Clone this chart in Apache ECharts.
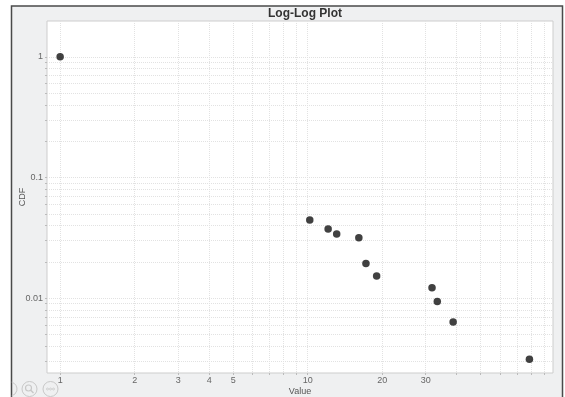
<!DOCTYPE html>
<html>
<head>
<meta charset="utf-8">
<script src="https://cdn.jsdelivr.net/npm/echarts@6/dist/echarts.min.js"></script>
<style>html,body{margin:0;padding:0;background:#fff}#c{width:565px;height:397px}</style>
</head>
<body>
<div id="c"></div>
<script>
// Data
var xValues = [1, 10.2, 12.1, 13.1, 16.1, 17.2, 19, 31.8, 33.4, 38.7, 78.7];
var cdfValues = [1, 0.0444, 0.0374, 0.034, 0.0317, 0.0194, 0.0153, 0.0122, 0.0094, 0.00636, 0.00312];
var xTickLabels = [1, 2, 3, 4, 5, 10, 20, 30];
var xGridValues = [1, 2, 3, 4, 5, 6, 7, 8, 9, 10, 20, 30, 40, 50, 60, 70, 80, 90];
var yTickLabels = [0.01, 0.1, 1];
var yGridValues = [0.003, 0.004, 0.005, 0.006, 0.007, 0.008, 0.009, 0.01, 0.02, 0.03, 0.04, 0.05, 0.06, 0.07, 0.08, 0.09, 0.1, 0.2, 0.3, 0.4, 0.5, 0.6, 0.7, 0.8, 0.9, 1];

var points = xValues.map(function (x, i) { return [x, cdfValues[i]]; });

var chart = echarts.init(document.getElementById('c'), null, { renderer: 'canvas' });
var gridLine = { show: true, lineStyle: { color: '#e2e2e2', type: [1, 1], width: 1 } };
chart.setOption({
  backgroundColor: '#ffffff',
  animation: false,
  title: {
    text: 'Log-Log Plot',
    left: 263, top: 3,
    textStyle: { fontFamily: 'Liberation Sans', fontSize: 12, fontWeight: 'bold', color: '#333' }
  },
  graphic: [
    { type: 'rect', z: -100, shape: { x: 11.5, y: 6, width: 551, height: 400 },
      style: { fill: '#eff0f1', stroke: '#4a4a4a', lineWidth: 1.5 } },
    { type: 'arc', z: 10, shape: { cx: 10, cy: 389, r: 7, startAngle: -Math.PI * 0.42, endAngle: Math.PI * 0.42 },
      style: { fill: null, stroke: '#c8c8c8', lineWidth: 1 } },
    { type: 'circle', z: 10, shape: { cx: 29.5, cy: 389, r: 7.5 }, style: { fill: null, stroke: '#c8c8c8', lineWidth: 1 } },
    { type: 'circle', z: 10, shape: { cx: 28.5, cy: 388, r: 3 }, style: { fill: null, stroke: '#c8c8c8', lineWidth: 1.2 } },
    { type: 'line', z: 10, shape: { x1: 30.8, y1: 390.3, x2: 33.5, y2: 393 }, style: { stroke: '#c8c8c8', lineWidth: 1.5 } },
    { type: 'circle', z: 10, shape: { cx: 50.5, cy: 389, r: 7.5 }, style: { fill: null, stroke: '#c8c8c8', lineWidth: 1 } },
    { type: 'circle', z: 10, shape: { cx: 47.5, cy: 389, r: 1 }, style: { fill: null, stroke: '#c8c8c8', lineWidth: 0.8 } },
    { type: 'circle', z: 10, shape: { cx: 50.5, cy: 389, r: 1 }, style: { fill: null, stroke: '#c8c8c8', lineWidth: 0.8 } },
    { type: 'circle', z: 10, shape: { cx: 53.5, cy: 389, r: 1 }, style: { fill: null, stroke: '#c8c8c8', lineWidth: 0.8 } }
  ],
  grid: {
    left: 47, right: 12, top: 21, bottom: 24,
    outerBoundsMode: 'none', containLabel: false,
    show: true, backgroundColor: '#ffffff', borderColor: '#cdcdcd', borderWidth: 1
  },
  xAxis: {
    type: 'log', logBase: 10, min: 0.885, max: 98,
    name: 'Value', nameLocation: 'middle', nameGap: 14, nameMoveOverlap: false,
    nameTextStyle: { fontFamily: 'Liberation Sans', fontSize: 9, color: '#555' },
    axisLine: { show: false },
    axisTick: { show: true, length: 2, lineStyle: { color: '#bbb' }, customValues: xGridValues },
    axisLabel: { customValues: xTickLabels, margin: 3, fontFamily: 'Liberation Sans', fontSize: 9, color: '#666' },
    splitLine: gridLine,
    minorTick: { show: false }
  },
  yAxis: {
    type: 'log', logBase: 10, min: 0.0024, max: 1.98,
    name: 'CDF', nameLocation: 'middle', nameGap: 20, nameMoveOverlap: false,
    nameTextStyle: { fontFamily: 'Liberation Sans', fontSize: 9, color: '#555' },
    axisLine: { show: false },
    axisTick: { show: true, length: 2, lineStyle: { color: '#bbb' }, customValues: yGridValues },
    axisLabel: { customValues: yTickLabels, margin: 4, fontFamily: 'Liberation Sans', fontSize: 9, color: '#666' },
    splitLine: gridLine
  },
  series: [{
    type: 'scatter',
    data: points,
    symbol: 'circle',
    symbolSize: 7.5,
    itemStyle: { color: '#111111' }
  }]
});
</script>
</body>
</html>
